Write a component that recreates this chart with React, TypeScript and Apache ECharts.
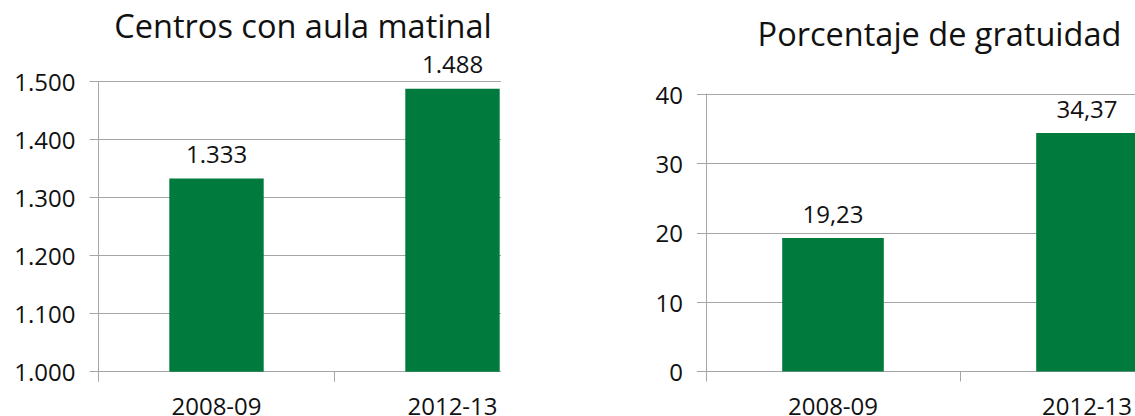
import React, { useEffect, useRef } from "react";
import * as echarts from "echarts";

const categories = ["2008-09", "2012-13"];
const centrosValues = [1333, 1488];
const gratuidadValues = [19.23, 34.37];
const centrosAxis = { min: 1000, max: 1500, interval: 100 };
const gratuidadAxis = { min: 0, max: 40, interval: 10 };
const titleCentros = "Centros con aula matinal";
const titleGratuidad = "Porcentaje de gratuidad";

const GREEN = "#007a3d";
const LINE = "#a6a6a6";
const TEXT = "#111111";
const FONT = "'Open Sans', 'Noto Sans', sans-serif";

const fmtThousands = (v: number) =>
  Math.round(v).toString().replace(/\B(?=(\d{3})+(?!\d))/g, ".");
const fmtDecimal = (v: number) => v.toFixed(2).replace(".", ",");

function buildOption(cfg: any) {
  return {
    animation: false,
    title: {
      text: cfg.title,
      left: cfg.titleX,
      top: cfg.titleTop,
      textAlign: "center",
      textStyle: { fontFamily: FONT, fontSize: 32.5, fontWeight: "normal", color: TEXT },
    },
    grid: {
      left: cfg.left,
      right: cfg.right,
      top: cfg.top,
      bottom: cfg.bottom,
      containLabel: false,
      outerBoundsMode: "none",
    },
    xAxis: {
      type: "category",
      data: categories,
      axisLine: { onZero: false, lineStyle: { color: LINE, width: 1 } },
      axisTick: { show: true, length: 10, lineStyle: { color: LINE } },
      axisLabel: { fontFamily: FONT, fontSize: 24, color: TEXT, margin: 22 },
    },
    yAxis: {
      type: "value",
      min: cfg.axis.min,
      max: cfg.axis.max,
      interval: cfg.axis.interval,
      axisLine: { show: true, lineStyle: { color: LINE, width: 1 } },
      axisTick: { show: true, length: 9, lineStyle: { color: LINE } },
      splitLine: { show: true, lineStyle: { color: LINE, width: 1 } },
      axisLabel: { fontFamily: FONT, fontSize: 24, color: TEXT, margin: 23, formatter: cfg.axisFmt },
    },
    series: [
      {
        type: "bar",
        data: cfg.data,
        barWidth: "40%",
        itemStyle: { color: GREEN },
        label: {
          show: true,
          position: "top",
          distance: 13,
          fontFamily: FONT,
          fontSize: 24,
          color: TEXT,
          formatter: (p: any) => cfg.labelFmt(p.value),
        },
      },
    ],
  };
}

function Chart({ option, style }: { option: any; style: React.CSSProperties }) {
  const ref = useRef<HTMLDivElement>(null);
  useEffect(() => {
    if (!ref.current) return;
    const chart = echarts.init(ref.current, null, { renderer: "svg" });
    chart.setOption(option);
    return () => chart.dispose();
  }, [option]);
  return <div ref={ref} style={style} />;
}

const leftOption = buildOption({
  title: titleCentros,
  titleX: 298,
  titleTop: 4,
  left: 98.5,
  right: 35.5,
  top: 81.7,
  bottom: 44.3,
  axis: centrosAxis,
  data: centrosValues,
  axisFmt: (v: number) => fmtThousands(v),
  labelFmt: fmtThousands,
});

const rightOption = buildOption({
  title: titleGratuidad,
  titleX: 934.5,
  titleTop: 12,
  left: 706,
  right: 46,
  top: 94,
  bottom: 44.5,
  axis: gratuidadAxis,
  data: gratuidadValues,
  axisFmt: (v: number) => String(v),
  labelFmt: fmtDecimal,
});

export default function App() {
  return (
    <div
      style={{
        position: "fixed",
        left: 0,
        top: 0,
        width: 1135,
        height: 416,
        background: "#ffffff",
        overflow: "hidden",
      }}
    >
      <div style={{ position: "absolute", left: 0, top: 0, width: 501, height: 416, overflow: "hidden" }}>
        <Chart option={leftOption} style={{ position: "absolute", left: 0, top: 0, width: 606, height: 416 }} />
      </div>
      <div style={{ position: "absolute", left: 501, top: 0, width: 634, height: 416, overflow: "hidden" }}>
        <Chart option={rightOption} style={{ position: "absolute", left: -501, top: 0, width: 1260, height: 416 }} />
      </div>
    </div>
  );
}
